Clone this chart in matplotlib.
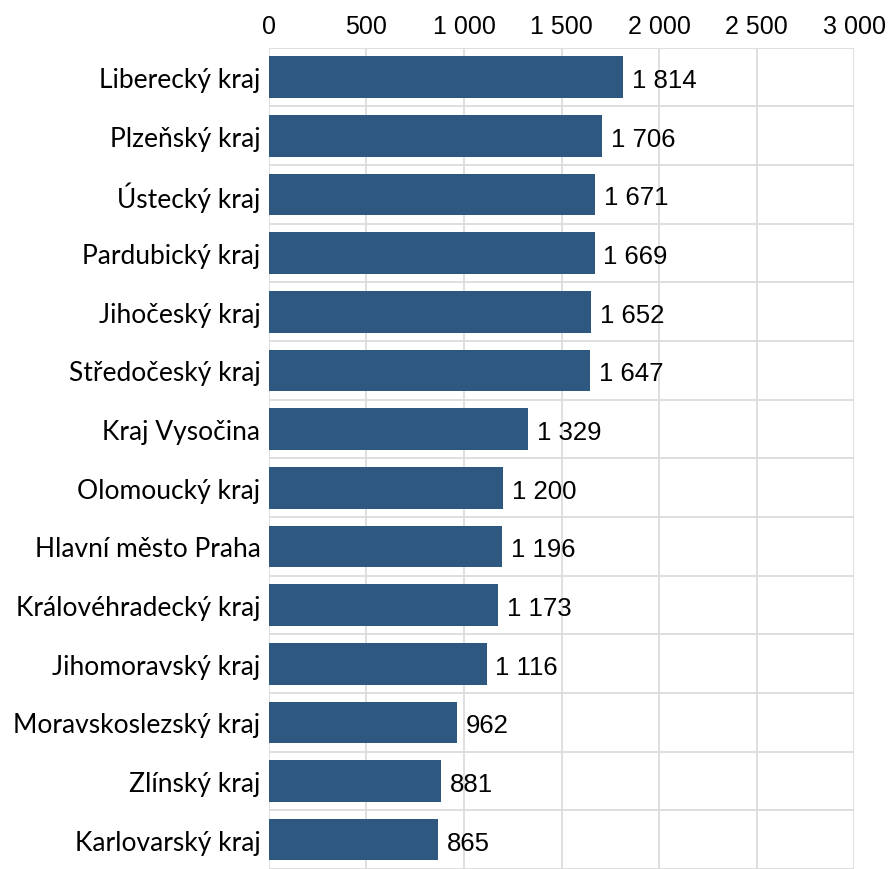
import matplotlib
matplotlib.use("Agg")
import matplotlib.pyplot as plt
from matplotlib.ticker import FuncFormatter

regions = ["Liberecký kraj", "Plzeňský kraj", "Ústecký kraj", "Pardubický kraj",
           "Jihočeský kraj", "Středočeský kraj", "Kraj Vysočina", "Olomoucký kraj",
           "Hlavní město Praha", "Královéhradecký kraj", "Jihomoravský kraj",
           "Moravskoslezský kraj", "Zlínský kraj", "Karlovarský kraj"]
values = [1814, 1706, 1671, 1669, 1652, 1647, 1329, 1200, 1196, 1173, 1116, 962, 881, 865]
x_ticks = [0, 500, 1000, 1500, 2000, 2500, 3000]

def fmt(v):
    return f"{int(v):,}".replace(",", " ")

fig = plt.figure(figsize=(8.9, 8.7), dpi=100)
ax = fig.add_axes([0.302, 0.0, 0.658, 0.944])

ypos = list(range(len(regions)))
ax.barh(ypos, values, height=0.71, color="#2F5880", zorder=3)
ax.set_ylim(len(regions) - 0.5, -0.5)
ax.set_xlim(0, 3000)
ax.set_xticks(x_ticks)
ax.xaxis.set_major_formatter(FuncFormatter(lambda v, p: fmt(v)))
ax.xaxis.tick_top()
ax.tick_params(axis="x", length=0, pad=7, labelsize=18)
for lab in ax.get_xticklabels():
    lab.set_fontfamily("Liberation Sans")
ax.set_yticks(ypos)
ax.set_yticklabels(regions, fontfamily="Lato", fontsize=19)
ax.tick_params(axis="y", length=0, pad=6)

# gridlines
ax.set_yticks([i + 0.5 for i in range(-1, len(regions))], minor=True)
ax.grid(axis="x", which="major", color="#D9D9D9", linewidth=1.2, zorder=0)
ax.grid(axis="y", which="minor", color="#D9D9D9", linewidth=1.2, zorder=0)
ax.tick_params(axis="y", which="minor", length=0)
for s in ax.spines.values():
    s.set_visible(False)

for y, v in zip(ypos, values):
    ax.text(v + 45, y + 0.05, fmt(v), va="center", ha="left",
            fontsize=18.5, fontfamily="Liberation Sans", color="black", zorder=4)

fig.savefig("out.png", dpi=100)
